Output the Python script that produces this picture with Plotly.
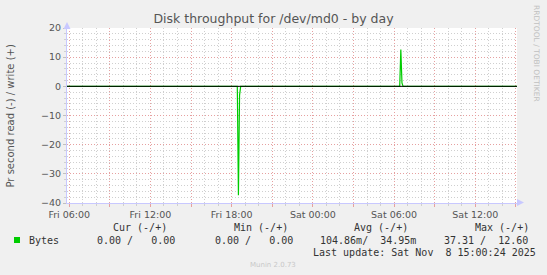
import plotly.graph_objects as go

# ---- data ----
times = [
    "2025-11-07 05:50", "2025-11-07 18:25", "2025-11-07 18:30", "2025-11-07 18:35",
    "2025-11-07 18:40", "2025-11-08 06:25", "2025-11-08 06:30", "2025-11-08 06:35",
    "2025-11-08 06:40", "2025-11-08 15:05",
]
bytes_values = [0, 0, -37.31, -3.0, 0, 0, 12.60, 1.2, 0, 0]

x_range = ["2025-11-07 05:50", "2025-11-08 15:05"]
y_range = [-40, 20]
x_tickvals = ["2025-11-07 06:00", "2025-11-07 09:00", "2025-11-07 12:00", "2025-11-07 15:00",
              "2025-11-07 18:00", "2025-11-07 21:00", "2025-11-08 00:00", "2025-11-08 03:00",
              "2025-11-08 06:00", "2025-11-08 09:00", "2025-11-08 12:00", "2025-11-08 15:00"]
x_ticktext = ["Fri 06:00", "", "Fri 12:00", "", "Fri 18:00", "", "Sat 00:00", "",
              "Sat 06:00", "", "Sat 12:00", ""]

title = "Disk throughput for /dev/md0 - by day"
y_title = "Pr second read (-) / write (+)"
legend_header = ["Cur (-/+)", "Min (-/+)", "Avg (-/+)", "Max (-/+)"]
series_name = "Bytes"
legend_values = ["0.00 /   0.00", "0.00 /   0.00", "104.86m/  34.95m", "37.31 /  12.60"]
last_update = "Last update: Sat Nov  8 15:00:24 2025"
munin_version = "Munin 2.0.73"
rrd_credit = "RRDTOOL / TOBI OETIKER"

# ---- geometry ----
W, H = 547, 275
L, R, T, B = 67, 30, 28, 72
PW, PH = W - L - R, H - T - B

def px(xp):
    return (xp - L) / PW

def py(yp):
    return (H - B - yp) / PH

def nb(s):
    return s.replace(" ", "\u00a0")

GREEN = "#00CC00"
TXT = "#555555"
LEG = "#333333"
MONO = "DejaVu Sans Mono"
SANS = "DejaVu Sans"
MAJ = "#E6A0A0"
MIN = "#CFCFCF"

fig = go.Figure()
fig.add_trace(go.Scatter(x=times, y=bytes_values, mode="lines",
                         line=dict(color=GREEN, width=1.2), showlegend=False,
                         hoverinfo="skip"))

fig.update_layout(
    width=W, height=H,
    margin=dict(l=L, r=R, t=T, b=B, pad=0),
    paper_bgcolor="#F0F0F0", plot_bgcolor="#FFFFFF",
    showlegend=False,
    title=dict(text=title, x=0.5, xanchor="center", xref="container",
               y=1 - 19 / H, yanchor="middle", yref="container",
               font=dict(family=SANS, size=12.5, color=TXT)),
)

fig.update_xaxes(
    type="date", range=x_range,
    tickvals=x_tickvals, ticktext=x_ticktext,
    ticks="outside", ticklen=3, tickcolor=MAJ, tickwidth=1,
    showgrid=True, gridcolor=MAJ, griddash="1px,2px", gridwidth=1,
    minor=dict(dtick=3600000, showgrid=True, gridcolor=MIN, griddash="1px,2px",
               ticks="outside", ticklen=2, tickcolor=MIN),
    showline=True, linecolor="#C8C8FF", linewidth=1,
    tickfont=dict(family=SANS, size=9.5, color=TXT),
    zeroline=False, fixedrange=True,
)
fig.update_yaxes(
    range=y_range, dtick=10, tick0=0,
    ticks="outside", ticklen=3, tickcolor="#C0C0C0",
    showgrid=True, gridcolor=MAJ, griddash="1px,2px", gridwidth=1,
    minor=dict(dtick=2, showgrid=True, gridcolor=MIN, griddash="1px,2px",
               ticks="outside", ticklen=2, tickcolor=MIN),
    showline=True, linecolor="#C8C8FF", linewidth=1,
    tickfont=dict(family=SANS, size=9.5, color=TXT),
    zeroline=False, fixedrange=True,
)

# zero line on top (black)
fig.add_shape(type="line", xref="paper", yref="y", x0=0, x1=1, y0=0, y1=0,
              line=dict(color="#000000", width=1), layer="above")

# axis arrows
fig.add_shape(type="path", xref="paper", yref="paper",
              path=f"M {px(517)} {py(199)} L {px(524)} {py(202.5)} L {px(517)} {py(206)} Z",
              fillcolor="#C8C8FF", line=dict(width=0), layer="above")
fig.add_shape(type="path", xref="paper", yref="paper",
              path=f"M {px(63.5)} {py(29)} L {px(67)} {py(22)} L {px(70.5)} {py(29)} Z",
              fillcolor="#C8C8FF", line=dict(width=0), layer="above")

# legend square
fig.add_shape(type="rect", xref="paper", yref="paper",
              x0=px(14), x1=px(20), y0=py(243), y1=py(237),
              fillcolor=GREEN, line=dict(width=0))

ann = []
ann.append(dict(text=y_title, x=px(10), y=0.5, textangle=-90,
                font=dict(family=SANS, size=10, color=TXT)))
ann.append(dict(text=rrd_credit, x=px(537), y=py(53), textangle=90,
                font=dict(family=SANS, size=7.5, color="#C0C0C0")))
for s, xp in zip(legend_header, [111, 232, 352, 473]):
    ann.append(dict(text=nb(s), x=px(xp), y=py(227.5), xanchor="left",
                    font=dict(family=MONO, size=10, color=LEG)))
ann.append(dict(text=series_name, x=px(26.5), y=py(240), xanchor="left",
                font=dict(family=MONO, size=10, color=LEG)))
for s, xp in zip(legend_values, [95, 213, 318, 442]):
    ann.append(dict(text=nb(s), x=px(xp), y=py(240), xanchor="left",
                    font=dict(family=MONO, size=10, color=LEG)))
ann.append(dict(text=nb(last_update), x=px(311), y=py(252), xanchor="left",
                font=dict(family=MONO, size=10, color=LEG)))
ann.append(dict(text=munin_version, x=px(273), y=py(264.5), xanchor="center",
                font=dict(family=SANS, size=7, color="#C8C8C8")))

for a in ann:
    a.setdefault("xanchor", "center")
    a.update(xref="paper", yref="paper", yanchor="middle", showarrow=False)
    fig.add_annotation(**a)

fig.write_html("out.html")
